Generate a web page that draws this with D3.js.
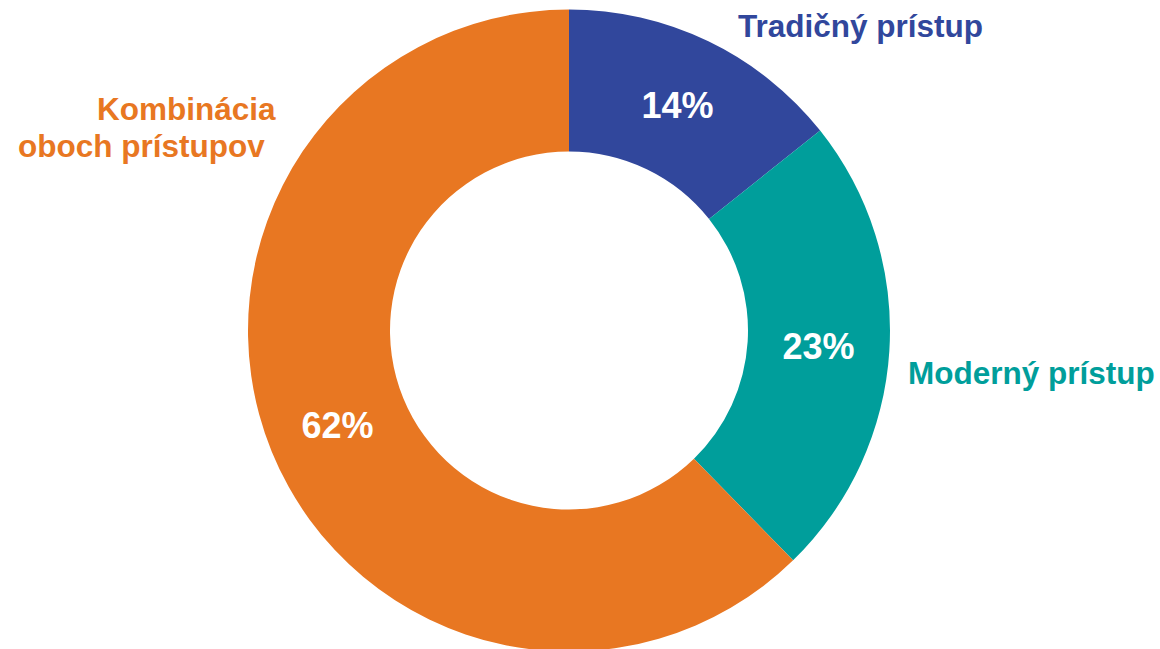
<!DOCTYPE html>
<html>
<head>
<meta charset="utf-8">
<script src="https://cdn.jsdelivr.net/npm/d3@7/dist/d3.min.js"></script>
<style>
  html, body { margin: 0; padding: 0; background: #ffffff; }
  svg { display: block; }
  text { font-family: "Liberation Sans", Arial, sans-serif; font-weight: bold; }
</style>
</head>
<body>
<svg id="chart" width="1160" height="649"></svg>
<script>
// Data
const categories = ["Tradičný prístup", "Moderný prístup", "Kombinácia oboch prístupov"];
const categoryLines = [["Tradičný prístup"], ["Moderný prístup"], ["Kombinácia", "oboch prístupov"]];
const values = [14.3, 23.4, 62.3];
const colors = ["#31479C", "#009E9B", "#E87722"];

const W = 1160, H = 649;
const cx = 569, cy = 330.5;
const outerR = 321, innerR = 179;

const svg = d3.select("#chart");
const g = svg.append("g").attr("transform", `translate(${cx},${cy})`);

const pie = d3.pie().sort(null).value(d => d);
const arcs = pie(values);
const arc = d3.arc().innerRadius(innerR).outerRadius(outerR);

g.selectAll("path.slice")
  .data(arcs)
  .join("path")
  .attr("class", "slice")
  .attr("d", arc)
  .attr("fill", (d, i) => colors[i]);

// Percentage labels at centroids
g.selectAll("text.pct")
  .data(arcs)
  .join("text")
  .attr("class", "pct")
  .attr("x", d => arc.centroid(d)[0])
  .attr("y", d => arc.centroid(d)[1])
  .attr("dy", "0.36em")
  .attr("text-anchor", "middle")
  .attr("fill", "#ffffff")
  .style("font-size", "36px")
  .text(d => Math.round(d.value) + "%");

// Category labels (outside)
const labelPos = [
  { x: 738, y: 36.5 },
  { x: 908, y: 383.5 },
  { xs: [97, 18], y: 119.5 }
];
const lineH = 37;
categoryLines.forEach((lines, i) => {
  const p = labelPos[i];
  const t = svg.append("text")
    .attr("fill", colors[i])
    .style("font-size", "31.5px");
  lines.forEach((ln, j) => {
    t.append("tspan")
      .attr("x", p.xs ? p.xs[j] : p.x)
      .attr("y", p.y + j * lineH)
      .text(ln);
  });
});
</script>
</body>
</html>
